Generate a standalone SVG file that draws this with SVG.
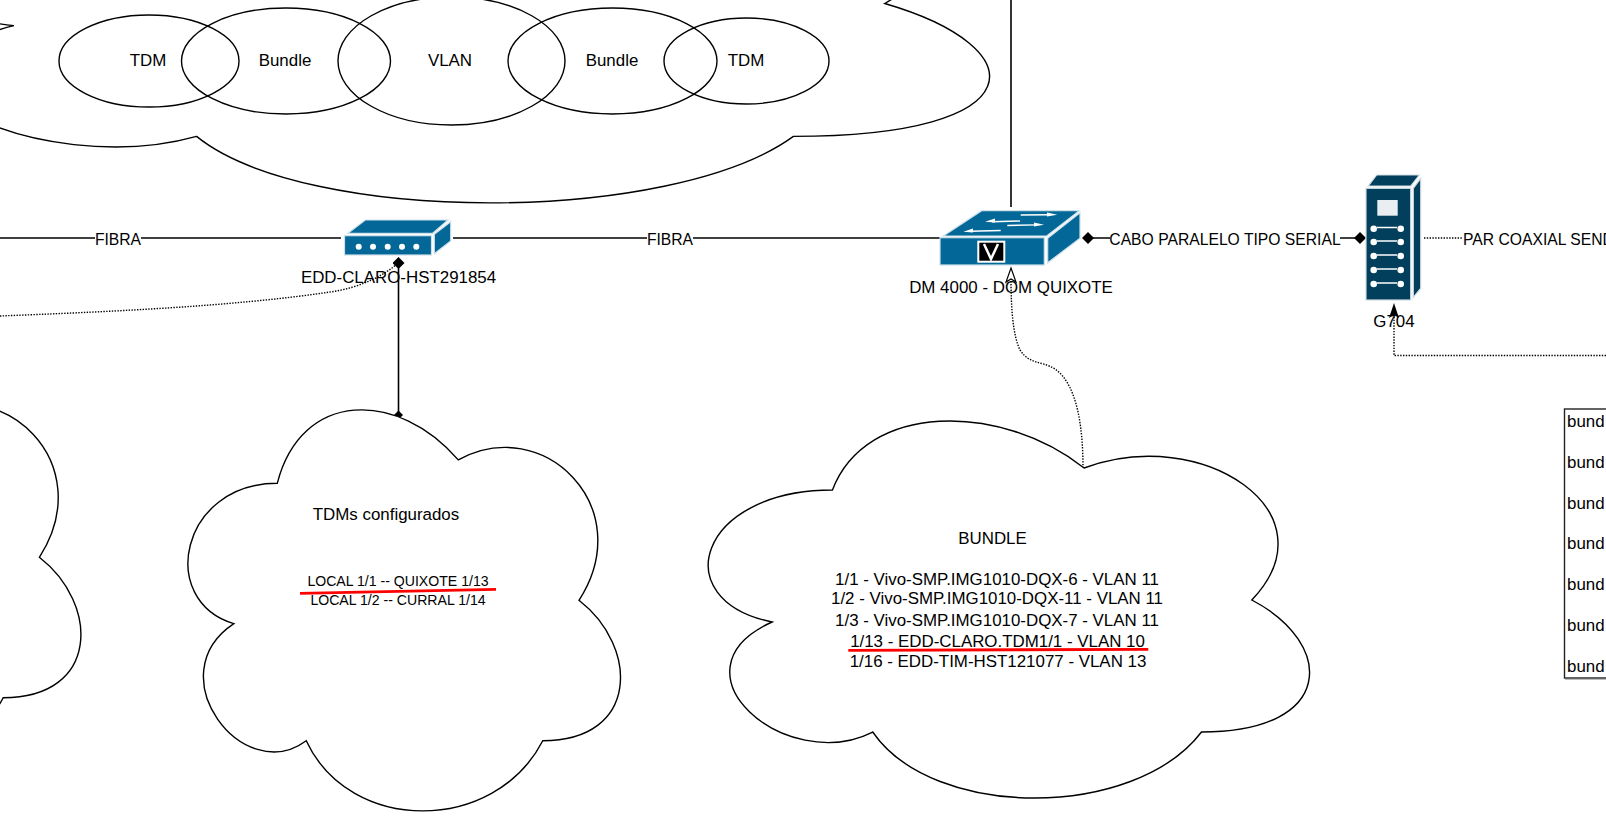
<svg xmlns="http://www.w3.org/2000/svg" xmlns:xlink="http://www.w3.org/1999/xlink" width="1606" height="820" viewBox="0 0 1606 820">
<style>
text{font-family:"Liberation Sans",Arial,sans-serif;font-size:16.9px;fill:#000;stroke:none;text-anchor:middle}
.s{font-size:14.1px}
.c{font-size:15.7px}
.st{text-anchor:start}
.shape{fill:#fff;stroke:#000;stroke-width:1.4}
.el{fill:none;stroke:#000;stroke-width:1.4}
.ln{fill:none;stroke:#000;stroke-width:1.6}
.dot{fill:none;stroke:#000;stroke-width:1.4;stroke-dasharray:1.4 1.4}
.red{fill:none;stroke:#f00;stroke-width:2.8}
.blue{fill:#036897;stroke:#cfe0ea;stroke-width:1.2}
.navy{fill:#023f5c;stroke:#cfdbe2;stroke-width:1.2}
.wl{stroke:#fff;stroke-width:1.4;fill:none}
.lb{fill:#fff}
</style>
<defs>
<path id="cloud" vector-effect="non-scaling-stroke" d="M25 25C5 25 0 50 16 55C0 66 18 90 31 80C40 100 70 100 80 80C100 80 100 60 87.5 50C100 30 80 10 62.5 20C50 5 30 5 25 25Z"/>
<marker id="dia" viewBox="-6 -6 12 12" markerWidth="12" markerHeight="12" markerUnits="userSpaceOnUse" orient="auto"><path d="M-6 0L0-6L6 0L0 6Z" fill="#000"/></marker>
</defs>

<g id="connectors">
<path class="ln" d="M0 238H341"/>
<path class="ln" d="M453 238H940"/>
<rect class="lb" x="95" y="228" width="46" height="20"/><text class="c" x="118" y="244.500">FIBRA</text>
<rect class="lb" x="647" y="228" width="46" height="20"/><text class="c" x="670" y="244.500">FIBRA</text>
<path class="ln" d="M1011 0V207"/>
<path class="ln" d="M398.500 263V415" stroke="#333" marker-start="url(#dia)"/>
<path d="M394 415L398.500 410.500L403 415L398.500 419.500Z" fill="#000"/>
<path class="dot" d="M0 316C100 312 230 307 330 292C360 288 385 275 398 263"/>
<path class="ln" d="M1088 238H1360" marker-start="url(#dia)" marker-end="url(#dia)"/>
<rect class="lb" x="1110" y="228" width="230" height="20"/><text class="c" x="1225" y="244.500">CABO PARALELO TIPO SERIAL</text>
<path class="dot" d="M1424 238H1463"/>
<text class="c st" x="1463" y="244.500">PAR COAXIAL SEND</text>
<path class="dot" d="M1083 468C1083 430 1078 385 1055 369C1040 360 1030 365 1020 350C1013 335 1011 310 1011 278"/>
<path d="M1011 268L1016 282L1011 279L1006 282Z" fill="#fff" stroke="#000" stroke-width="1.2"/>
<path class="dot" d="M1606 355.500H1394V316"/>
<path d="M1394 303L1399 318L1394 315L1389 318Z" fill="#000"/>
</g>

<g id="cloud-top" class="shape"><use xlink:href="#cloud" href="#cloud" transform="matrix(12.18 0 0 4.43 -181 -218)"/></g>
<g id="cloud-left" class="shape"><use xlink:href="#cloud" href="#cloud" transform="matrix(4.827 0 0 4.68 -383 323.300)"/></g>
<g id="cloud-tdm" class="shape"><use xlink:href="#cloud" href="#cloud" transform="matrix(4.827 0 0 4.68 156.600 366.300)"/>
<text x="386" y="520">TDMs configurados</text>
<text class="s" x="398" y="586">LOCAL 1/1 -- QUIXOTE 1/13</text>
<text class="s" x="398" y="605">LOCAL 1/2 -- CURRAL 1/14</text>
</g>
<g id="cloud-bundle" class="shape"><use xlink:href="#cloud" href="#cloud" transform="matrix(6.71 0 0 4.4 664.700 380)"/>
<text x="992.5" y="543.5">BUNDLE</text>
<text x="997" y="585">1/1 - Vivo-SMP.IMG1010-DQX-6 - VLAN 11</text>
<text x="997" y="604">1/2 - Vivo-SMP.IMG1010-DQX-11 - VLAN 11</text>
<text x="997" y="626">1/3 - Vivo-SMP.IMG1010-DQX-7 - VLAN 11</text>
<text x="997.5" y="647">1/13 - EDD-CLARO.TDM1/1 - VLAN 10</text>
<text x="998" y="667">1/16 - EDD-TIM-HST121077 - VLAN 13</text>
</g>
<g id="ell-tdm1"><ellipse class="el" cx="149" cy="61" rx="90" ry="46"/><text x="148" y="66">TDM</text></g>
<g id="ell-bundle1"><ellipse class="el" cx="286" cy="61" rx="104.500" ry="53"/><text x="285" y="66">Bundle</text></g>
<g id="ell-vlan"><ellipse class="el" cx="451.500" cy="61" rx="113.500" ry="64"/><text x="450" y="66">VLAN</text></g>
<g id="ell-bundle2"><ellipse class="el" cx="612.500" cy="61" rx="104.500" ry="53"/><text x="612" y="66">Bundle</text></g>
<g id="ell-tdm2"><ellipse class="el" cx="746.500" cy="61" rx="82.500" ry="43"/><text x="746" y="66">TDM</text></g>

<g id="edd-claro">
<path class="blue" d="M348 233.300L365.300 220H448L432.700 233.300Z"/>
<path class="blue" d="M434.300 234.300L450.700 221.700V241L434.300 253.700Z"/>
<rect class="blue" x="344.500" y="235.700" width="87" height="19.300"/>
<g fill="#fff"><circle cx="358.700" cy="246.700" r="3"/><circle cx="373" cy="246.700" r="3"/><circle cx="387.700" cy="246.700" r="3"/><circle cx="402" cy="246.700" r="3"/><circle cx="416.300" cy="246.700" r="3"/></g>
<text x="398.500" y="282.700">EDD-CLARO-HST291854</text>
</g>

<g id="dm4000">
<path class="blue" d="M943.300 236L981.700 210.700H1079.300L1046.700 236Z"/>
<path class="blue" d="M1047.700 238.300L1080 212.700V238.300L1047.700 262.700Z"/>
<rect class="blue" x="940" y="237.700" width="104.300" height="27.300"/>
<path d="M1000.700 230.500L970 231.300M1020 221L992 221.700M1020.700 215L1050 214.700M1007.300 225.500L1037 224.900" class="wl"/>
<path d="M963.300 231.700L973 228.500L973 232.500ZM985 221.700L995 218.500V222.500ZM1057.300 214.700L1047 212.500V216.500ZM1044 224.700L1034 222.500V226.500Z" fill="#fff"/>
<rect x="978.300" y="241.700" width="26" height="20" fill="#000" stroke="#fff" stroke-width="2"/>
<path d="M984 244L991 259L998 244" fill="none" stroke="#fff" stroke-width="2.500"/>
<text x="1011" y="292.500">DM 4000 - DOM QUIXOTE</text>
</g>

<g id="g704">
<path class="navy" d="M1368.300 186L1376.700 175H1419.300L1410.700 186Z"/>
<path class="navy" d="M1413.300 188.300L1420.700 178.300V288.300L1413.300 297.300Z"/>
<rect class="navy" x="1366" y="188.300" width="44.700" height="111.700"/>
<rect x="1377.300" y="200" width="20.400" height="15.700" fill="#e8eef2"/>
<g fill="#fff"><circle cx="1373.700" cy="228.700" r="3.300"/><circle cx="1400.700" cy="228.700" r="3.300"/><circle cx="1373.700" cy="242" r="3.300"/><circle cx="1400.700" cy="242" r="3.300"/><circle cx="1373.700" cy="256" r="3.300"/><circle cx="1400.700" cy="256" r="3.300"/><circle cx="1373.700" cy="270" r="3.300"/><circle cx="1400.700" cy="270" r="3.300"/><circle cx="1373.700" cy="284" r="3.300"/><circle cx="1400.700" cy="284" r="3.300"/></g>
<path class="wl" d="M1377 227.500H1397M1377 241H1397M1377 255H1397M1377 269H1397M1377 283H1397"/>
<text x="1394" y="326.700">G704</text>
</g>

<g id="table-bundle">
<rect x="1564.500" y="409" width="60" height="269" fill="#fff" stroke="#222" stroke-width="1.4"/>
<path d="M1565 679.500H1606" stroke="#bbb" stroke-width="1"/>
<g class="rows"><text class="st" x="1567" y="427">bund</text><text class="st" x="1567" y="468">bund</text><text class="st" x="1567" y="509">bund</text><text class="st" x="1567" y="549">bund</text><text class="st" x="1567" y="590">bund</text><text class="st" x="1567" y="631">bund</text><text class="st" x="1567" y="672">bund</text></g>
</g>

<g id="highlights">
<path class="red" d="M300 593.300L496 589.300"/>
<path class="red" d="M848.300 650.300L1148.300 649.300"/>
</g>
</svg>
